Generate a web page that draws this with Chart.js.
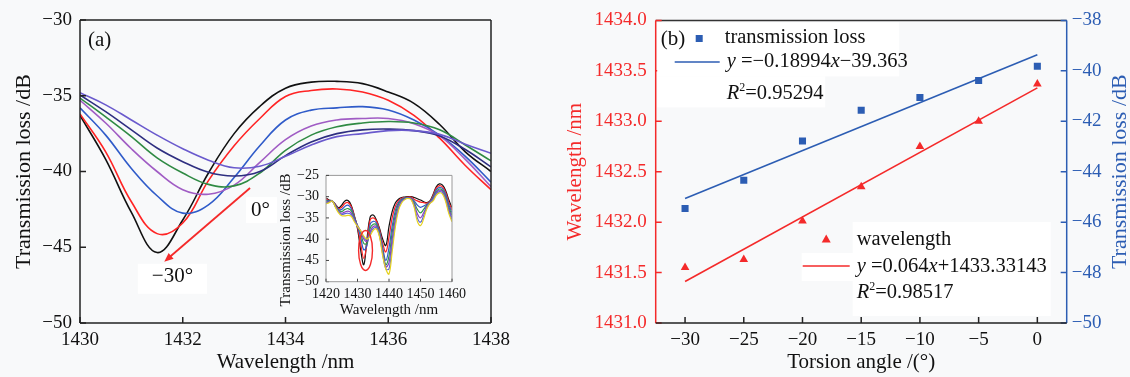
<!DOCTYPE html>
<html>
<head>
<meta charset="utf-8">
<script src="https://cdn.jsdelivr.net/npm/chart.js@4.4.1/dist/chart.umd.min.js"></script>
<style>
  html, body { margin: 0; padding: 0; background: #f8f9fa; }
  #wrap { position: relative; width: 1130px; height: 377px; overflow: hidden; }
  canvas { position: absolute; }
</style>
</head>
<body>
<div id="wrap">
  <canvas id="spectraChart" width="520" height="377" style="left:0;top:0"></canvas>
  <canvas id="insetChart" width="200" height="160" style="left:270px;top:160px"></canvas>
  <canvas id="torsionChart" width="590" height="377" style="left:540px;top:0"></canvas>
</div>
<script>
// ---- panel (a): transmission spectra near the 1432 nm dip, 0° .. -30°
const wavelengths = [1430, 1430.5, 1431, 1431.5, 1432, 1432.5, 1433, 1433.5, 1434, 1434.5, 1435, 1435.5, 1436, 1436.5, 1437, 1437.5, 1438];
const spec0  = [-34.8, -35.6, -36.6, -37.6, -38.5, -39.25, -39.75, -39.65, -39.0, -38.25, -37.7, -37.5, -37.3, -37.3, -37.55, -38.2, -38.8];
const spec5  = [-34.95, -36.05, -37.25, -38.45, -39.35, -40.05, -40.3, -40.0, -38.95, -38.05, -37.5, -37.25, -37.2, -37.3, -37.65, -38.55, -39.7];
const spec10 = [-35.15, -36.4, -37.7, -39.1, -40.1, -40.85, -40.95, -40.1, -38.6, -37.6, -37.05, -36.8, -36.7, -36.8, -37.25, -38.25, -39.3];
const spec15 = [-35.3, -36.8, -38.5, -40.0, -41.2, -41.5, -40.9, -39.4, -37.9, -37.0, -36.6, -36.5, -36.5, -36.85, -37.65, -39.2, -41.0];
const spec20 = [-35.8, -37.6, -39.8, -41.6, -42.75, -42.2, -40.4, -38.3, -36.6, -35.95, -35.8, -35.72, -35.94, -36.6, -37.6, -39.0, -40.7];
const spec25 = [-36.2, -38.7, -42.0, -44.1, -43.4, -40.6, -38.3, -36.5, -35.05, -34.65, -34.55, -34.75, -35.3, -36.3, -37.8, -39.6, -41.2];
const spec30 = [-36.3, -39.2, -42.7, -45.35, -43.2, -40.1, -37.5, -35.7, -34.5, -34.1, -34.05, -34.2, -34.75, -35.5, -36.9, -38.7, -40.0];
const spectraAngles = ['0°', '-5°', '-10°', '-15°', '-20°', '-25°', '-30°'];
const wlTicks = [1430, 1432, 1434, 1436, 1438];
const lossTicksA = [-50, -45, -40, -35, -30];

// inset: full spectra 1420-1460 nm
const insetWavelengths = [1420, 1421, 1422, 1423, 1424, 1425, 1426, 1427, 1428, 1429, 1430, 1431, 1432, 1433, 1434, 1435, 1436, 1437, 1438, 1439, 1440,
  1441, 1442, 1443, 1444, 1445, 1446, 1447, 1448, 1449, 1450, 1451, 1452, 1453, 1454, 1455, 1456, 1457, 1458, 1459, 1460];
const insetK = [-30.3, -30.8, -31.0, -31.8, -32.6, -32.0, -31.0, -30.9, -32.0, -34.5, -37.5, -42.5, -46.0, -40.0, -34.8, -34.3, -35.5, -37.5, -40.0, -41.5, -37.0,
  -33.5, -31.5, -30.6, -30.2, -30.1, -30.0, -30.0, -30.2, -30.5, -30.8, -31.2, -31.4, -31.0, -29.5, -27.7, -27.0, -27.3, -28.6, -30.8, -32.6];
const insetR = [-30.5, -30.9, -31.0, -31.9, -32.8, -32.5, -31.6, -31.4, -32.3, -34.6, -37.2, -41.0, -44.5, -41.0, -35.5, -35.0, -35.7, -37.8, -41.0, -43.0, -39.5,
  -35.0, -32.3, -31.0, -30.4, -30.2, -30.1, -30.1, -30.6, -31.0, -31.3, -31.4, -31.5, -31.1, -29.7, -28.0, -27.4, -27.7, -29.0, -31.3, -33.2];
const insetB = [-30.8, -31.0, -31.0, -32.0, -33.0, -33.0, -32.3, -32.0, -32.8, -34.8, -37.0, -39.5, -42.5, -41.5, -36.5, -35.8, -36.2, -38.2, -42.0, -45.0, -42.0,
  -37.0, -33.3, -31.4, -30.6, -30.3, -30.2, -30.3, -31.0, -32.0, -32.5, -32.2, -31.8, -31.2, -30.0, -28.4, -27.8, -28.1, -29.5, -31.9, -33.8];
const insetG = [-31.0, -31.1, -31.0, -32.2, -33.2, -33.5, -33.0, -32.8, -33.3, -35.0, -36.8, -38.5, -41.0, -41.0, -37.5, -36.5, -36.6, -38.7, -42.5, -46.0, -44.0,
  -38.5, -34.3, -31.8, -30.8, -30.4, -30.2, -30.4, -31.4, -33.0, -33.8, -33.0, -32.0, -31.3, -30.3, -28.8, -28.2, -28.5, -30.0, -32.5, -34.4];
const insetP = [-31.2, -31.2, -31.0, -32.3, -33.4, -33.9, -33.6, -33.4, -33.8, -35.3, -36.8, -38.2, -40.0, -40.5, -38.3, -37.0, -37.0, -39.0, -43.0, -46.5, -45.5,
  -40.0, -35.3, -32.3, -31.0, -30.5, -30.3, -30.5, -31.8, -34.0, -35.0, -33.8, -32.3, -31.4, -30.5, -29.1, -28.5, -28.8, -30.4, -33.0, -34.9];
const insetV = [-31.4, -31.3, -31.0, -32.4, -33.6, -34.2, -34.0, -33.9, -34.2, -35.6, -36.9, -38.0, -39.5, -40.2, -38.8, -37.5, -37.3, -39.3, -43.5, -47.0, -47.0,
  -41.5, -36.3, -32.8, -31.2, -30.6, -30.3, -30.6, -32.2, -35.0, -36.0, -34.5, -32.6, -31.5, -30.7, -29.4, -28.8, -29.1, -30.8, -33.5, -35.4];
const insetY = [-31.7, -31.4, -31.0, -32.5, -33.8, -34.5, -34.5, -34.4, -34.6, -35.9, -37.0, -38.0, -39.3, -40.0, -39.2, -37.9, -37.6, -39.5, -44.0, -47.0, -48.2,
  -43.0, -37.2, -33.3, -31.5, -30.7, -30.4, -30.7, -32.5, -35.8, -36.8, -35.2, -32.9, -31.6, -31.0, -29.7, -29.1, -29.4, -31.2, -34.0, -35.9];
const insetWlTicks = [1420, 1430, 1440, 1450, 1460];
const insetLossTicks = [-50, -45, -40, -35, -30, -25];

// ---- panel (b): dip wavelength and loss versus torsion angle
const torsionAngles = [-30, -25, -20, -15, -10, -5, 0];
const dipLoss = [-45.46, -44.34, -42.78, -41.56, -41.06, -40.38, -39.82];
const dipWavelength = [1431.55, 1431.63, 1432.01, 1432.35, 1432.75, 1433.0, 1433.37];
const lossFit = { slope: 0.18994, intercept: -39.363, r2: '0.95294' };
const wlFit = { slope: 0.064, intercept: 1433.33143, r2: '0.98517' };
const angleTicks = [-30, -25, -20, -15, -10, -5, 0];
const wlTicksB = [1431.0, 1431.5, 1432.0, 1432.5, 1433.0, 1433.5, 1434.0];
const lossTicksB = [-50, -48, -46, -44, -42, -40, -38];

const SERIF = '"Liberation Serif", "Times New Roman", serif';
Chart.defaults.font.family = SERIF;
Chart.defaults.color = '#111';

const RED = '#f42a2a';
const BLUE = '#2c5db3';
const spectraColors = ['#6a5acd', '#2e2e80', '#2f8a43', '#a05cc4', '#2f5bc9', '#ff2424', '#111111'];
const insetColors = ['#111111', '#ff2424', '#2f5bc9', '#2f9a48', '#8a3fbf', '#5a63d8', '#e6d21e'];

const minus = v => String(v).replace('-', '\u2212');
const fixTicks = list => scale => { scale.ticks = list.map(v => ({ value: v })); };
const noGrid = { display: false, drawTicks: false };

// axis frame + inward tick marks, drawn on top of the datasets
const frameTicks = {
  id: 'frameTicks',
  afterDatasetsDraw(chart, args, opts) {
    const { ctx, chartArea: a } = chart;
    ctx.save();
    ctx.lineWidth = opts.lineWidth;
    opts.sides.forEach(side => {
      ctx.strokeStyle = side.color;
      ctx.beginPath();
      if (side.pos === 'top') { ctx.moveTo(a.left, a.top); ctx.lineTo(a.right, a.top); }
      if (side.pos === 'bottom') { ctx.moveTo(a.left, a.bottom); ctx.lineTo(a.right, a.bottom); }
      if (side.pos === 'left') { ctx.moveTo(a.left, a.top); ctx.lineTo(a.left, a.bottom); }
      if (side.pos === 'right') { ctx.moveTo(a.right, a.top); ctx.lineTo(a.right, a.bottom); }
      ctx.stroke();
      if (!side.scale) return;
      const sc = chart.scales[side.scale];
      const len = opts.tickLen;
      ctx.strokeStyle = side.tickColor || side.color;
      ctx.beginPath();
      sc.ticks.forEach(t => {
        const p = sc.getPixelForValue(t.value);
        if (side.pos === 'bottom') { ctx.moveTo(p, a.bottom); ctx.lineTo(p, a.bottom - len); }
        if (side.pos === 'left') { ctx.moveTo(a.left, p); ctx.lineTo(a.left + len, p); }
        if (side.pos === 'right') { ctx.moveTo(a.right, p); ctx.lineTo(a.right - len, p); }
      });
      ctx.stroke();
    });
    ctx.restore();
  }
};

// text runs with italic variables and superscripts
function drawRuns(ctx, x, y, runs, size) {
  let cx = x;
  runs.forEach(([text, style]) => {
    const sup = style === 'sup';
    ctx.font = (style === 'i' ? 'italic ' : '') + (sup ? Math.round(size * 0.6) : size) + 'px ' + SERIF;
    ctx.fillText(text, cx, sup ? y - size * 0.28 : y);
    cx += ctx.measureText(text).width;
  });
}

function whiteBox(ctx, x, y, w, h) {
  ctx.fillStyle = '#ffffff';
  ctx.fillRect(x, y, w, h);
}

// arrow and angle labels of panel (a)
const spectraNotes = {
  id: 'spectraNotes',
  afterDatasetsDraw(chart) {
    const { ctx, scales: { x, y } } = chart;
    ctx.save();
    ctx.textBaseline = 'middle';
    ctx.fillStyle = '#111';
    ctx.font = '21px ' + SERIF;
    ctx.fillText('(a)', chart.chartArea.left + 8, chart.chartArea.top + 20);

    const x0 = x.getPixelForValue(1433.31), y0 = y.getPixelForValue(-41.09);
    const x1 = x.getPixelForValue(1431.64), y1 = y.getPixelForValue(-45.95);

    // label backgrounds
    const lx = x.getPixelForValue(1433.33), ly = y.getPixelForValue(-42.55);
    whiteBox(ctx, lx - 5, ly - 13, ctx.measureText('0°').width + 12, 26);
    const mx = x.getPixelForValue(1431.8), my = y.getPixelForValue(-46.95);
    const mw = ctx.measureText('\u221230°').width;
    whiteBox(ctx, mx - mw / 2 - 14, my - 13, mw + 28, 30);

    // arrow
    const ang = Math.atan2(y1 - y0, x1 - x0);
    ctx.strokeStyle = RED;
    ctx.fillStyle = RED;
    ctx.lineWidth = 1.8;
    ctx.beginPath();
    ctx.moveTo(x0, y0);
    ctx.lineTo(x1 - 6 * Math.cos(ang), y1 - 6 * Math.sin(ang));
    ctx.stroke();
    ctx.beginPath();
    ctx.moveTo(x1, y1);
    ctx.lineTo(x1 - 9 * Math.cos(ang) + 3.8 * Math.sin(ang), y1 - 9 * Math.sin(ang) - 3.8 * Math.cos(ang));
    ctx.lineTo(x1 - 9 * Math.cos(ang) - 3.8 * Math.sin(ang), y1 - 9 * Math.sin(ang) + 3.8 * Math.cos(ang));
    ctx.closePath();
    ctx.fill();

    ctx.fillStyle = '#111';
    ctx.textAlign = 'left';
    ctx.fillText('0°', lx, ly);
    ctx.textAlign = 'center';
    ctx.fillText('\u221230°', mx, my);
    ctx.restore();
  }
};

new Chart(document.getElementById('spectraChart'), {
  type: 'line',
  data: {
    datasets: [spec0, spec5, spec10, spec15, spec20, spec25, spec30].map((s, i) => ({
      label: spectraAngles[i],
      data: wavelengths.map((w, j) => ({ x: w, y: s[j] })),
      borderColor: spectraColors[i],
      borderWidth: 1.6,
      pointRadius: 0,
      tension: 0.4,
      fill: false
    }))
  },
  options: {
    responsive: false,
    animation: false,
    layout: { padding: { top: 20, right: 29, left: 0, bottom: 0 } },
    plugins: {
      legend: { display: false },
      tooltip: { enabled: false },
      frameTicks: {
        lineWidth: 1.5, tickLen: 6,
        sides: [
          { pos: 'top', color: '#222' }, { pos: 'right', color: '#222' },
          { pos: 'left', color: '#222', scale: 'y' }, { pos: 'bottom', color: '#222', scale: 'x' }
        ]
      }
    },
    scales: {
      x: {
        type: 'linear', min: 1430, max: 1438,
        afterBuildTicks: fixTicks(wlTicks),
        afterFit: s => { s.height = 54; },
        grid: noGrid, border: { display: false },
        ticks: { padding: 6, font: { size: 19 }, callback: v => String(v) },
        title: { display: true, text: 'Wavelength /nm', font: { size: 21 }, padding: { top: 0, bottom: 2 } }
      },
      y: {
        type: 'linear', min: -50, max: -30,
        afterBuildTicks: fixTicks(lossTicksA),
        afterFit: s => { s.width = 80; },
        grid: noGrid, border: { display: false },
        ticks: { padding: 8, font: { size: 19 }, callback: v => minus(v) },
        title: { display: true, text: 'Transmission loss /dB', font: { size: 22 }, padding: { top: 11, bottom: 0 } }
      }
    }
  },
  plugins: [frameTicks, spectraNotes]
});

// inset: white plot area, marked dip and rotated axis title
const insetNotes = {
  id: 'insetNotes',
  beforeDatasetsDraw(chart) {
    const { ctx, chartArea: a } = chart;
    ctx.save();
    ctx.fillStyle = '#ffffff';
    ctx.fillRect(a.left, a.top, a.right - a.left, a.bottom - a.top);
    ctx.restore();
  },
  afterDatasetsDraw(chart) {
    const { ctx, scales: { x, y } } = chart;
    ctx.save();
    const cx = x.getPixelForValue(1432.55), cy = y.getPixelForValue(-42.65);
    const rx = x.getPixelForValue(1432.55 + 2.2) - cx;
    const ry = y.getPixelForValue(-42.65 - 4.7) - cy;
    ctx.strokeStyle = RED;
    ctx.lineWidth = 1.4;
    ctx.beginPath();
    ctx.ellipse(cx, cy, rx, ry, 0, 0, Math.PI * 2);
    ctx.stroke();

    ctx.translate(16, 80);
    ctx.rotate(-Math.PI / 2);
    ctx.fillStyle = '#111';
    ctx.font = '15px ' + SERIF;
    ctx.textAlign = 'center';
    ctx.textBaseline = 'middle';
    ctx.fillText('Transmission loss /dB', 0, 0);
    ctx.restore();
  }
};

new Chart(document.getElementById('insetChart'), {
  type: 'line',
  data: {
    datasets: [insetK, insetR, insetB, insetG, insetP, insetV, insetY].map((s, i) => ({
      data: insetWavelengths.map((w, j) => ({ x: w, y: s[j] })),
      borderColor: insetColors[i],
      borderWidth: 1.2,
      pointRadius: 0,
      tension: 0.4,
      fill: false
    })).reverse()
  },
  options: {
    responsive: false,
    animation: false,
    layout: { padding: { top: 10.7, right: 6.7, left: 0, bottom: 0 } },
    plugins: {
      legend: { display: false },
      tooltip: { enabled: false },
      frameTicks: {
        lineWidth: 1, tickLen: 3,
        sides: [
          { pos: 'top', color: '#9a9a9a' }, { pos: 'right', color: '#9a9a9a' },
          { pos: 'left', color: '#9a9a9a', tickColor: '#444', scale: 'y' },
          { pos: 'bottom', color: '#9a9a9a', tickColor: '#444', scale: 'x' }
        ]
      }
    },
    scales: {
      x: {
        type: 'linear', min: 1420, max: 1460,
        afterBuildTicks: fixTicks(insetWlTicks),
        afterFit: s => { s.height = 38.3; },
        grid: noGrid, border: { display: false },
        ticks: { padding: 4, font: { size: 14 }, callback: v => String(v) },
        title: { display: true, text: 'Wavelength /nm', font: { size: 15 }, padding: { top: 0, bottom: 1 } }
      },
      y: {
        type: 'linear', min: -50, max: -25,
        afterBuildTicks: fixTicks(insetLossTicks),
        afterFit: s => { s.width = 56; },
        grid: noGrid, border: { display: false },
        ticks: { padding: 7, font: { size: 14 }, callback: v => minus(v) }
      }
    }
  },
  plugins: [frameTicks, insetNotes]
});

// legend boxes, fit equations and right axis title of panel (b)
const torsionNotes = {
  id: 'torsionNotes',
  afterDatasetsDraw(chart) {
    const { ctx, chartArea: a } = chart;
    ctx.save();
    ctx.textBaseline = 'middle';
    ctx.textAlign = 'left';

    // upper legend: transmission loss
    whiteBox(ctx, a.left + 1.5, a.top + 2, 242, 54);
    whiteBox(ctx, a.left + 1.5, a.top + 56, 168, 31);
    ctx.fillStyle = '#111';
    ctx.font = '21px ' + SERIF;
    ctx.fillText('(b)', a.left + 5, 39);
    ctx.fillStyle = BLUE;
    ctx.fillRect(a.left + 40, 35, 7, 7);
    ctx.fillStyle = '#111';
    drawRuns(ctx, a.left + 69, 38, [['transmission loss', '']], 20.5);
    ctx.strokeStyle = BLUE;
    ctx.lineWidth = 1.6;
    ctx.beginPath();
    ctx.moveTo(a.left + 19, 62);
    ctx.lineTo(a.left + 64, 62);
    ctx.stroke();
    drawRuns(ctx, a.left + 71, 62, [['y', 'i'], [' =\u22120.18994', ''], ['x', 'i'], ['\u221239.363', '']], 20.5);
    drawRuns(ctx, a.left + 71, 94, [['R', 'i'], ['2', 'sup'], ['=' + lossFit.r2, '']], 20.5);

    // lower legend: wavelength
    whiteBox(ctx, a.left + 197, 222, 198, 94);
    whiteBox(ctx, a.left + 146, 253, 52, 28);
    ctx.fillStyle = RED;
    ctx.beginPath();
    ctx.moveTo(a.left + 170.5, 234.5);
    ctx.lineTo(a.left + 175, 242.5);
    ctx.lineTo(a.left + 166, 242.5);
    ctx.closePath();
    ctx.fill();
    ctx.fillStyle = '#111';
    drawRuns(ctx, a.left + 201, 240, [['wavelength', '']], 20.5);
    ctx.strokeStyle = RED;
    ctx.beginPath();
    ctx.moveTo(a.left + 147, 266);
    ctx.lineTo(a.left + 194, 266);
    ctx.stroke();
    drawRuns(ctx, a.left + 201, 267, [['y', 'i'], [' =0.064', ''], ['x', 'i'], ['+1433.33143', '']], 20.5);
    drawRuns(ctx, a.left + 201, 293, [['R', 'i'], ['2', 'sup'], ['=' + wlFit.r2, '']], 20.5);

    // right axis title, reading bottom to top
    ctx.translate(chart.width - 10, (a.top + a.bottom) / 2);
    ctx.rotate(-Math.PI / 2);
    ctx.fillStyle = BLUE;
    ctx.font = '22px ' + SERIF;
    ctx.textAlign = 'center';
    ctx.fillText('Transmission loss /dB', 0, 0);
    ctx.restore();
  }
};

const fitLine = (fit, xs) => [xs[0], xs[xs.length - 1]].map(v => ({ x: v, y: fit.intercept + fit.slope * v }));

new Chart(document.getElementById('torsionChart'), {
  type: 'scatter',
  data: {
    datasets: [
      {
        label: 'transmission loss',
        data: torsionAngles.map((t, i) => ({ x: t, y: dipLoss[i] })),
        yAxisID: 'yR', pointStyle: 'rect', pointRadius: 5, borderWidth: 0,
        backgroundColor: BLUE
      },
      {
        label: 'loss fit',
        data: fitLine(lossFit, torsionAngles),
        yAxisID: 'yR', showLine: true, pointRadius: 0, borderWidth: 1.6, borderColor: BLUE
      },
      {
        label: 'wavelength',
        data: torsionAngles.map((t, i) => ({ x: t, y: dipWavelength[i] })),
        yAxisID: 'yL', pointStyle: 'triangle', pointRadius: 5, borderWidth: 0,
        backgroundColor: RED
      },
      {
        label: 'wavelength fit',
        data: fitLine(wlFit, torsionAngles),
        yAxisID: 'yL', showLine: true, pointRadius: 0, borderWidth: 1.6, borderColor: RED
      }
    ]
  },
  options: {
    responsive: false,
    animation: false,
    layout: { padding: { top: 20, right: 0, left: 0, bottom: 0 } },
    plugins: {
      legend: { display: false },
      tooltip: { enabled: false },
      frameTicks: {
        lineWidth: 1.5, tickLen: 6,
        sides: [
          { pos: 'top', color: '#333' },
          { pos: 'left', color: RED, scale: 'yL' },
          { pos: 'right', color: BLUE, scale: 'yR' },
          { pos: 'bottom', color: '#222', scale: 'x' }
        ]
      }
    },
    scales: {
      x: {
        type: 'linear', min: -32.5, max: 2.5,
        afterBuildTicks: fixTicks(angleTicks),
        afterFit: s => { s.height = 54; },
        grid: noGrid, border: { display: false },
        ticks: { padding: 6, font: { size: 19 }, callback: v => minus(v) },
        title: { display: true, text: 'Torsion angle /(°)', font: { size: 21 }, padding: { top: 0, bottom: 2 } }
      },
      yL: {
        type: 'linear', position: 'left', min: 1431, max: 1434,
        afterBuildTicks: fixTicks(wlTicksB),
        afterFit: s => { s.width = 115.7; },
        grid: noGrid, border: { display: false },
        ticks: { padding: 9, color: RED, font: { size: 19 }, callback: v => Number(v).toFixed(1) },
        title: { display: true, text: 'Wavelength /nm', color: RED, font: { size: 21 }, padding: { top: 23, bottom: 0 } }
      },
      yR: {
        type: 'linear', position: 'right', min: -50, max: -38,
        afterBuildTicks: fixTicks(lossTicksB),
        afterFit: s => { s.width = 63.3; },
        grid: noGrid, border: { display: false },
        ticks: { padding: 5, color: BLUE, font: { size: 19 }, callback: v => minus(v) }
      }
    }
  },
  plugins: [frameTicks, torsionNotes]
});
</script>
</body>
</html>
